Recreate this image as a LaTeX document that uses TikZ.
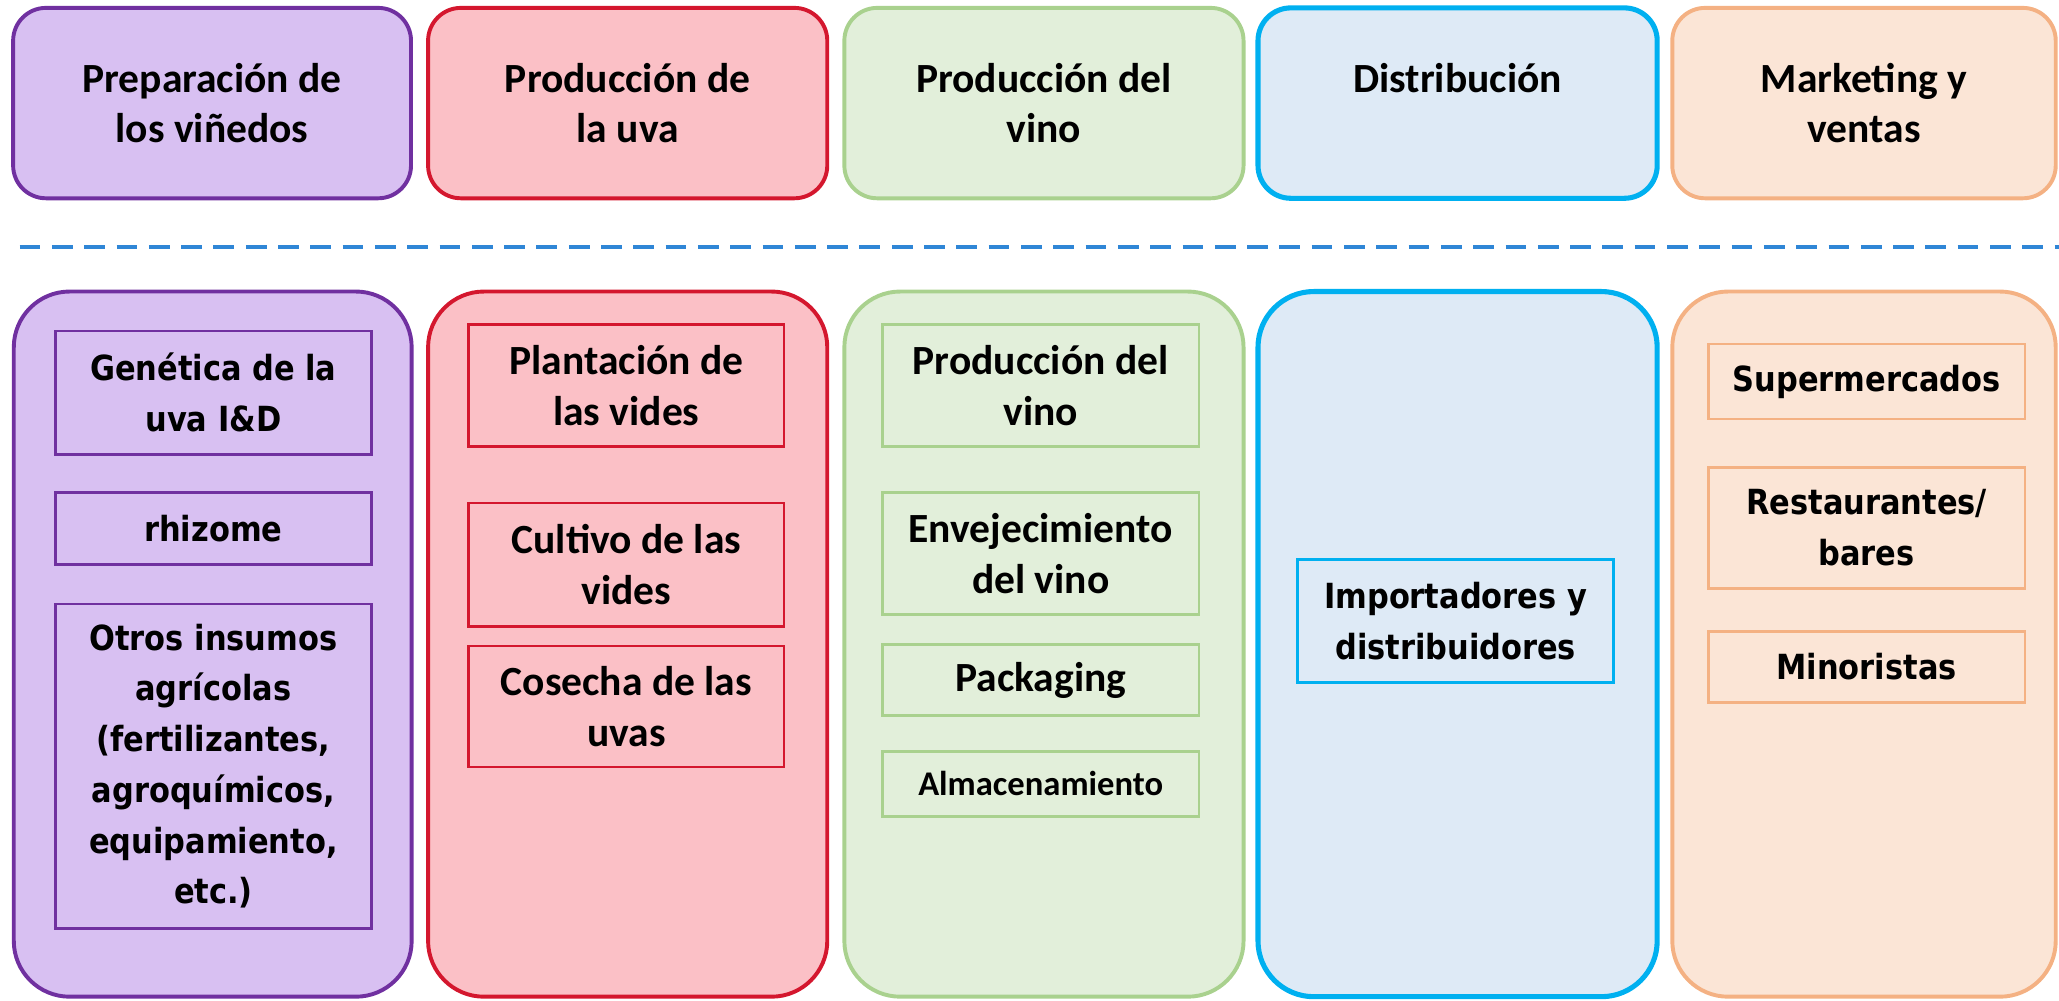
\documentclass[tikz,border=0pt]{standalone}
\usepackage{fontspec}
\setmainfont{Carlito}
\newfontfamily\wideface[FakeStretch=0.88]{DejaVu Sans}
\definecolor{pbord}{HTML}{7030A0}
\definecolor{pfill}{HTML}{D8C0F2}
\definecolor{rbord}{HTML}{D4172E}
\definecolor{rfill}{HTML}{FBC0C6}
\definecolor{gbord}{HTML}{A9D18E}
\definecolor{gfill}{HTML}{E2EFDA}
\definecolor{bbord}{HTML}{00B0F0}
\definecolor{bfill}{HTML}{DEEAF6}
\definecolor{obord}{HTML}{F4B183}
\definecolor{ofill}{HTML}{FBE5D6}
\definecolor{dashc}{HTML}{2F86D6}
\begin{document}
\begin{tikzpicture}[x=0.02cm,y=-0.02cm,
  sz/.style 2 args={minimum width=#1*0.02cm, minimum height=#2*0.02cm, inner sep=0pt, outer sep=0pt},
  headbox/.style={rectangle, rounded corners=0.5cm, line width=1.7pt, align=center,
     font=\bfseries\fontsize{18}{22}\selectfont},
  colbox/.style={rectangle, rounded corners=0.85cm, line width=1.7pt},
  cellc/.style={rectangle, line width=1.2pt, align=center, font=\bfseries\fontsize{18}{22}\selectfont},
  cellw/.style={rectangle, line width=1.2pt, align=center, font=\wideface\bfseries\fontsize{15}{22}\selectfont},
  pur/.style={draw=pbord, fill=pfill},
  red/.style={draw=rbord, fill=rfill},
  grn/.style={draw=gbord, fill=gfill},
  blu/.style={draw=bbord, fill=bfill},
  org/.style={draw=obord, fill=ofill},
  sepline/.style={draw=dashc, line width=1.7pt, dash pattern=on 9 off 5}]
\useasboundingbox (0,0) rectangle (1568,762);
% header row
\node[headbox, pur, sz={303}{145}] (h1) at (161.5,78.5) {Preparación de\\los viñedos};
\node[headbox, red, sz={304}{145}] (h2) at (478,78.5) {Producción de\\la uva};
\node[headbox, grn, sz={304}{145}] (h3) at (795,78.5) {Producción del\\vino};
\node[headbox, blu, line width=2.2pt, sz={304}{145}] (h4) at (1110,78.5) {Distribución\\\mbox{}};
\node[headbox, org, sz={292}{145}] (h5) at (1419.5,78.5) {Marketing y\\ventas};
% separator
\coordinate (sl) at (15,188);
\coordinate (sr) at (1568,188);
\draw[sepline] (sl) -- (sr);
% column boxes
\node[colbox, pur, sz={303}{537}] (c1) at (162,490.5) {};
\node[colbox, red, sz={304}{537}] (c2) at (478,490.5) {};
\node[colbox, grn, sz={304}{537}] (c3) at (795,490.5) {};
\node[colbox, blu, line width=2.2pt, sz={304}{537}] (c4) at (1110,490.5) {};
\node[colbox, org, sz={292}{537}] (c5) at (1419.5,490.5) {};
% column 1
\node[cellw, pur, sz={241}{94}] (a1) at (162.5,299) {Genética de la\\uva I\&D};
\node[cellw, pur, sz={241}{55}] (a2) at (162.5,402.5) {rhizome};
\node[cellw, pur, sz={241}{247}] (a3) at (162.5,583.5) {Otros insumos\\agrícolas\\(fertilizantes,\\agroquímicos,\\equipamiento,\\etc.)};
% column 2
\node[cellc, red, sz={240}{93}] (b1) at (477,293.5) {Plantación de\\las vides};
\node[cellc, red, sz={240}{94}] (b2) at (477,430) {Cultivo de las\\vides};
\node[cellc, red, sz={240}{92}] (b3) at (477,538) {Cosecha de las\\uvas};
% column 3
\node[cellc, grn, sz={241}{93}] (d1) at (792.5,293.5) {Producción del\\vino};
\node[cellc, grn, sz={241}{93}] (d2) at (792.5,421.5) {Envejecimiento\\del vino};
\node[cellc, grn, sz={241}{54}] (d3) at (792.5,518) {Packaging};
\node[cellc, grn, sz={241}{50}, font=\bfseries\fontsize{15}{18}\selectfont] (d4) at (792.5,597) {Almacenamiento};
% column 4
\node[cellw, blu, sz={241}{94}] (e1) at (1108.5,473) {Importadores y\\distribuidores};
% column 5
\node[cellw, org, sz={241}{57}] (f1) at (1421.5,290.5) {Supermercados};
\node[cellw, org, sz={241}{92}] (f2) at (1421.5,402) {Restaurantes/\\bares};
\node[cellw, org, sz={241}{54}] (f3) at (1421.5,508) {Minoristas};
\end{tikzpicture}
\end{document}
